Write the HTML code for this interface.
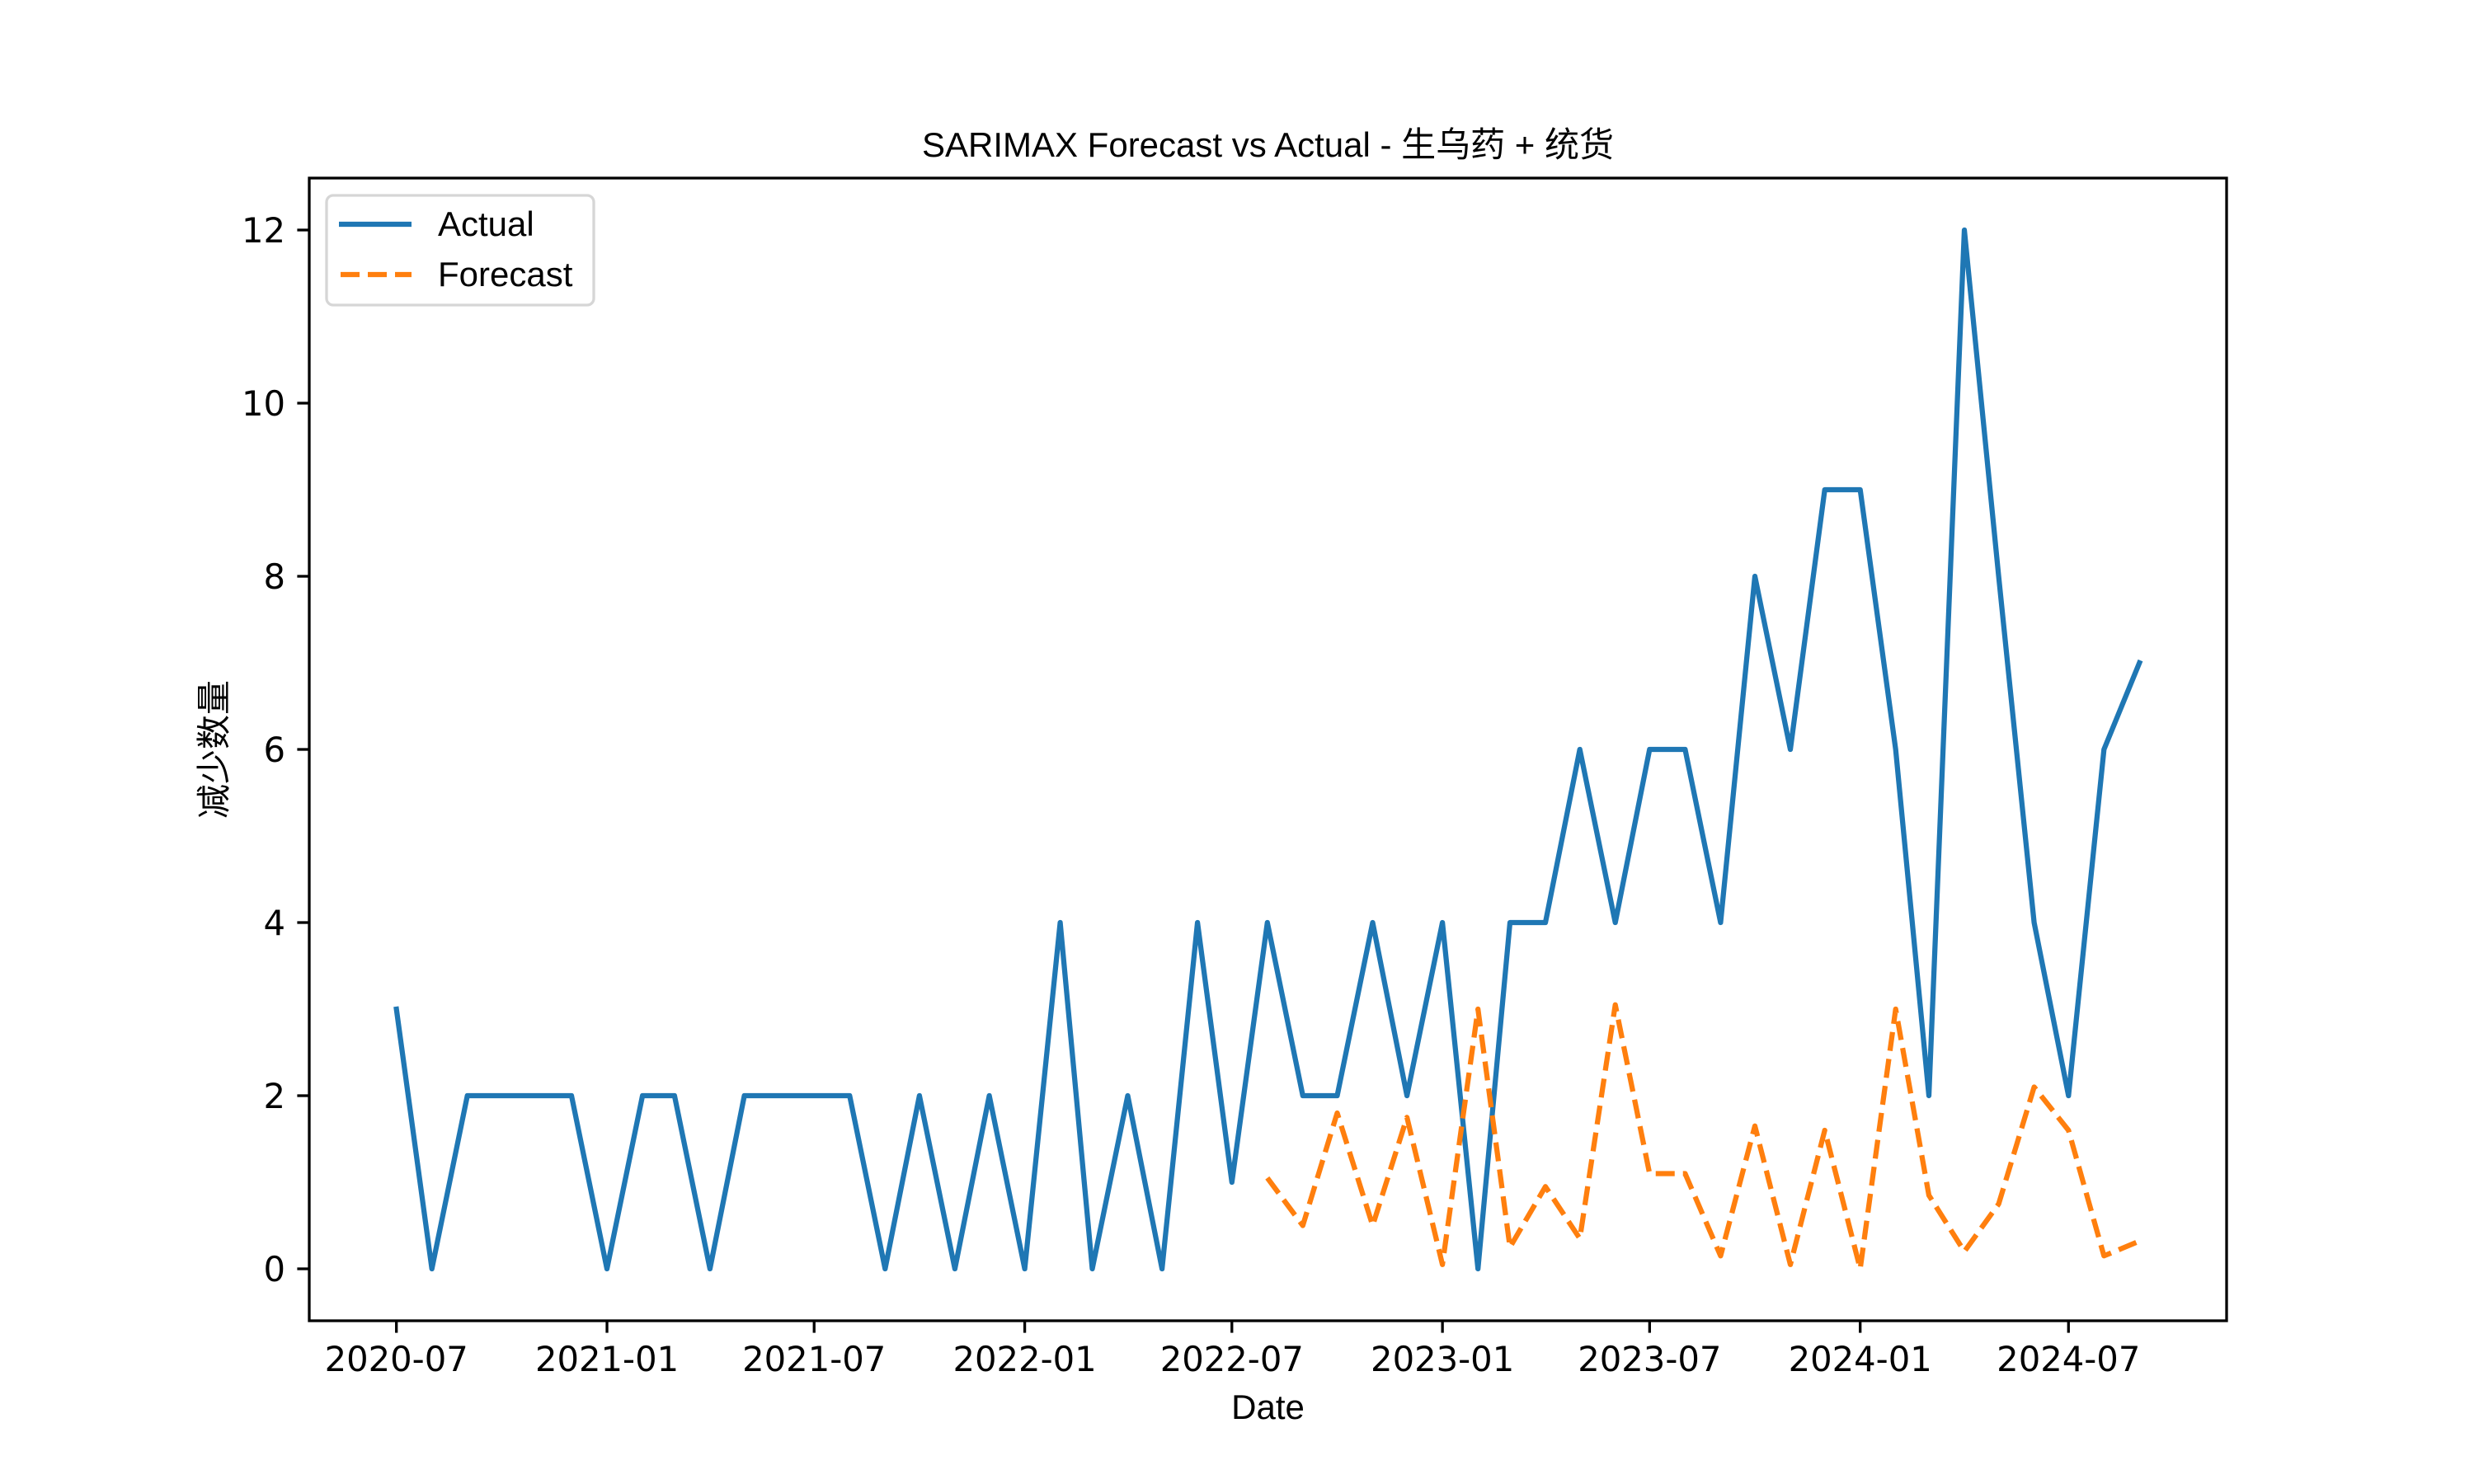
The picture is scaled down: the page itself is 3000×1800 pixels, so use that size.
<!DOCTYPE html>
<html><head><meta charset="utf-8"><style>
html,body{margin:0;padding:0;background:#fff;}
svg{display:block;}
</style></head><body>
<svg id="chart" width="3000" height="1800" viewBox="0 0 3000 1800" xmlns="http://www.w3.org/2000/svg">
<rect x="0" y="0" width="3000" height="1800" fill="#fff"/>
<g id="plot"></g>
<rect x="375" y="216" width="2325" height="1386" fill="none" stroke="#000" stroke-width="3.3"/>
<text x="1537.5" y="190" text-anchor="middle" font-family="'Liberation Sans','Noto Sans CJK SC',sans-serif" font-size="42">SARIMAX Forecast vs Actual - 生乌药 + 统货</text>
<text x="1537.5" y="1721" text-anchor="middle" font-family="'Liberation Sans',sans-serif" font-size="42">Date</text>
<text transform="translate(274,909) rotate(-90)" text-anchor="middle" font-family="'Liberation Sans','Noto Sans CJK SC',sans-serif" font-size="42">减少数量</text>
<g>
<rect x="396" y="237" width="324" height="133" rx="8" fill="#fff" fill-opacity="0.8" stroke="#d6d6d6" stroke-width="3.3"/>
<line x1="411" y1="272" x2="499" y2="272" stroke="#1f77b4" stroke-width="6.25"/>
<text x="531" y="286" font-family="'Liberation Sans',sans-serif" font-size="42">Actual</text>
<line x1="413" y1="333" x2="499" y2="333" stroke="#ff7f0e" stroke-width="6.25" stroke-dasharray="23,10"/>
<text x="531" y="347" font-family="'Liberation Sans',sans-serif" font-size="42">Forecast</text>
</g>
</svg>
<script>
const actualStart = [2020, 7];
const actualValues = [3,0,2,2,2,2, 0,2,2,0,2,2,2,2,0,2,0,2, 0,4,0,2,0,4,1,4,2,2,4,2, 4,0,4,4,6,4,6,6,4,8,6,9, 9,6,2,12,8,4,2,6,7];
const forecastStart = [2022, 8];
const forecastValues = [1.05,0.5,1.8,0.5,1.75,0.05,3.0,0.25,0.95,0.35,3.05,1.1,1.1,0.15,1.65,0.05,1.6,0.0,3.0,0.85,0.2,0.75,2.1,1.6,0.15,0.32];
const yTicks = [0,2,4,6,8,10,12];
const xTickLabels = ['2020-07','2021-01','2021-07','2022-01','2022-07','2023-01','2023-07','2024-01','2024-07'];

const NS='http://www.w3.org/2000/svg';
const L=375,R=2700,T=216,B=1602;
const t0=Date.UTC(2020,6,1), t1=Date.UTC(2024,8,1);
const pad=(t1-t0)*0.05;
const xmin=t0-pad, xmax=t1+pad;
const ymin=-0.6, ymax=12.6;
function xs(t){return L+(t-xmin)/(xmax-xmin)*(R-L);}
function ys(v){return B-(v-ymin)/(ymax-ymin)*(B-T);}
function monthT(start,i){return Date.UTC(start[0],start[1]-1+i,1);}
const plot=document.getElementById('plot');
const svg=document.getElementById('chart');
function mk(tag,attrs,parent){const e=document.createElementNS(NS,tag);for(const k in attrs)e.setAttribute(k,attrs[k]);(parent||svg).appendChild(e);return e;}

yTicks.forEach(v=>{
  const y=ys(v);
  const tk=mk('line',{x1:L-14.6,x2:L,y1:y,y2:y,stroke:'#000','stroke-width':3.3});
  
  
  const tx=mk('text',{x:L-29,y:y+15,'text-anchor':'end','font-family':"'DejaVu Sans',sans-serif",'font-size':41.7});
  tx.textContent=String(v);
  
  
});
xTickLabels.forEach(s=>{
  const [yy,mm]=s.split('-').map(Number);
  const x=xs(Date.UTC(yy,mm-1,1));
  const tk=mk('line',{x1:x,x2:x,y1:B,y2:B+14.6,stroke:'#000','stroke-width':3.3});
  
  
  const tx=mk('text',{x:x,y:1663,'text-anchor':'middle','font-family':"'DejaVu Sans',sans-serif",'font-size':41.7});
  tx.textContent=s;
  
  
});
function pts(start,vals){return vals.map((v,i)=>xs(monthT(start,i)).toFixed(1)+','+ys(v).toFixed(1)).join(' ');}
const a=mk('polyline',{points:pts(actualStart,actualValues),fill:'none',stroke:'#1f77b4','stroke-width':6.25,'stroke-linejoin':'round','stroke-linecap':'square'},plot);


const f=mk('polyline',{points:pts(forecastStart,forecastValues),fill:'none',stroke:'#ff7f0e','stroke-width':6.25,'stroke-dasharray':'23,10','stroke-linejoin':'round'},plot);


</script>
</body></html>
